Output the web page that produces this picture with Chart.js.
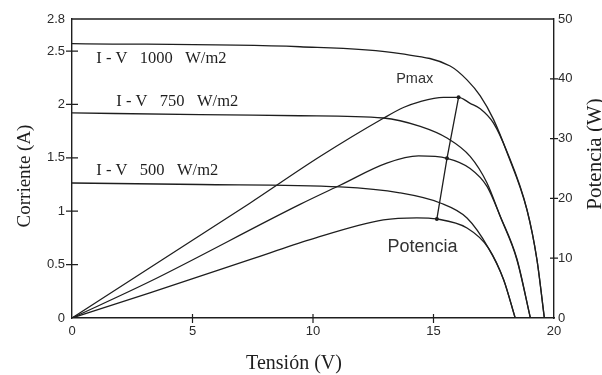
<!DOCTYPE html>
<html>
<head>
<meta charset="utf-8">
<script src="https://cdn.jsdelivr.net/npm/chart.js@4.4.1/dist/chart.umd.min.js"></script>
<style>html,body{margin:0;padding:0;background:#fff}canvas{display:block}</style>
</head>
<body>
<canvas id="c" width="602" height="375"></canvas>
<script>
// ── data (V in volts, I in amps, P in watts) ──
const v1000 = [0, 9.46, 13.63, 15.69, 16.39, 16.94, 17.49, 18.05, 18.88, 19.29, 19.6];
const i1000 = [2.57, 2.54, 2.475, 2.36, 2.23, 2.08, 1.86, 1.55, 1.01, 0.55, 0];
const v750 = [0, 5.31, 9.46, 12.92, 14.45, 15.56, 16.52, 17.22, 17.77, 18.46, 19.02];
const i750 = [1.92, 1.905, 1.894, 1.873, 1.794, 1.685, 1.513, 1.264, 0.95, 0.546, 0];
const v500 = [0, 5.31, 11.12, 13.6, 15.28, 16.39, 17.28, 17.91, 18.39];
const i500 = [1.264, 1.25, 1.227, 1.172, 1.077, 0.936, 0.655, 0.359, 0];

const pv1000 = [0, 3.23, 7.38, 10.29, 12.92, 13.75, 14.45, 15.41, 16.04, 16.52, 16.94, 17.49, 18.05, 18.88, 19.29, 19.6];
const p1000 = [0, 8.4, 19.2, 27.0, 33.4, 35.2, 36.2, 36.9, 36.9, 35.9, 35.0, 32.6, 27.8, 18.1, 9.8, 0];
const pv750 = [0, 3.23, 9.46, 11.12, 13.06, 14.38, 15.56, 16.52, 17.22, 17.77, 18.46, 19.02];
const p750 = [0, 6.1, 19.0, 22.2, 25.9, 27.1, 26.7, 25.0, 22.0, 17.0, 9.9, 0];
const pv500 = [0, 3.23, 7.38, 9.88, 12.92, 14.31, 15.14, 16.39, 17.28, 17.91, 18.39];
const p500 = [0, 4.2, 9.75, 13.1, 16.4, 16.75, 16.56, 15.05, 11.7, 6.4, 0];

const pmaxV = [16.04, 15.56, 15.14];
const pmaxP = [36.9, 26.7, 16.56];

const xTicks = [0, 5, 10, 15, 20];
const yTicks = [0, 0.5, 1, 1.5, 2, 2.5, 2.8];
const y1Ticks = [0, 10, 20, 30, 40, 50];

const ivLabels = ['I - V   1000   W/m2', 'I - V   750   W/m2', 'I - V   500   W/m2'];

const INK = '#1e1e1e';
const serif = '"Liberation Serif", "Times New Roman", serif';
const sans = '"Liberation Sans", Arial, sans-serif';

const pts = (xs, ys) => xs.map((x, k) => ({ x, y: ys[k] }));
const curve = (xs, ys, axis) => ({
  data: pts(xs, ys), yAxisID: axis,
  borderColor: INK, borderWidth: 1.3, pointRadius: 0,
  cubicInterpolationMode: 'monotone', fill: false
});

const deco = {
  id: 'deco',
  afterDraw(ch) {
    const c = ch.ctx, a = ch.chartArea, X = ch.scales.x, Y = ch.scales.y, Y1 = ch.scales.y1;
    c.save();
    c.strokeStyle = INK;
    c.lineWidth = 1.4;
    c.beginPath(); c.moveTo(a.left, a.top); c.lineTo(a.right, a.top); c.stroke();

    // tick marks crossing the axes
    c.lineWidth = 1.2;
    c.beginPath();
    yTicks.slice(1, -1).forEach(v => { const p = Y.getPixelForValue(v); c.moveTo(a.left - 6, p); c.lineTo(a.left + 6, p); });
    xTicks.slice(1, -1).forEach(v => { const p = X.getPixelForValue(v); c.moveTo(p, a.bottom - 4); c.lineTo(p, a.bottom + 5); });
    y1Ticks.slice(1, -1).forEach(v => { const p = Y1.getPixelForValue(v); c.moveTo(a.right - 4, p); c.lineTo(a.right + 4, p); });
    c.stroke();

    // curve labels
    c.fillStyle = INK;
    c.textBaseline = 'alphabetic';
    c.textAlign = 'left';
    c.font = '16.5px ' + serif;
    c.fillText(ivLabels[0], X.getPixelForValue(1.01), Y.getPixelForValue(2.388));
    c.fillText(ivLabels[1], X.getPixelForValue(1.84), Y.getPixelForValue(1.988));
    c.fillText(ivLabels[2], X.getPixelForValue(1.01), Y.getPixelForValue(1.342));
    c.fillStyle = '#333';
    c.font = '14.5px ' + sans;
    c.fillText('Pmax', X.getPixelForValue(13.45), Y1.getPixelForValue(39.3));
    c.font = '18px ' + sans;
    c.fillText('Potencia', X.getPixelForValue(13.09), Y1.getPixelForValue(11.0));

    // axis titles
    c.fillStyle = INK;
    c.textAlign = 'center';
    c.textBaseline = 'middle';
    c.font = '20px ' + serif;
    c.fillText('Tensión (V)', 294, 364);
    c.font = '19px ' + serif;
    c.save(); c.translate(25, 176); c.rotate(-Math.PI / 2); c.fillText('Corriente (A)', 0, 0); c.restore();
    c.font = '21px ' + serif;
    c.save(); c.translate(595, 154); c.rotate(-Math.PI / 2); c.fillText('Potencia (W)', 0, 0); c.restore();
    c.restore();
  }
};

const tickFont = { family: sans, size: 13 };
const axisBorder = { display: true, color: INK, width: 1.4 };
const noGrid = { drawOnChartArea: false, drawTicks: false };

new Chart(document.getElementById('c'), {
  type: 'line',
  data: {
    datasets: [
      curve(v1000, i1000, 'y'),
      curve(v750, i750, 'y'),
      curve(v500, i500, 'y'),
      curve(pv1000, p1000, 'y1'),
      curve(pv750, p750, 'y1'),
      curve(pv500, p500, 'y1'),
      {
        data: pts(pmaxV, pmaxP), yAxisID: 'y1',
        borderColor: INK, borderWidth: 1.3, tension: 0,
        pointRadius: 2, pointBackgroundColor: INK, pointBorderWidth: 0
      }
    ]
  },
  options: {
    responsive: false,
    animation: false,
    devicePixelRatio: 1,
    layout: { padding: { top: 19, left: 0, right: 0, bottom: 0 } },
    plugins: { legend: { display: false }, tooltip: { enabled: false } },
    scales: {
      x: {
        type: 'linear', min: 0, max: 20,
        afterBuildTicks: s => { s.ticks = xTicks.map(value => ({ value })); },
        afterFit: s => { s.height = 57; },
        ticks: { font: tickFont, color: '#2a2a2a', padding: 6, maxRotation: 0 },
        grid: noGrid, border: axisBorder
      },
      y: {
        position: 'left', min: 0, max: 2.8,
        afterBuildTicks: s => { s.ticks = yTicks.map(value => ({ value })); },
        afterFit: s => { s.width = 72; },
        ticks: { font: tickFont, color: '#2a2a2a', padding: 7, callback: v => String(v) },
        grid: noGrid, border: axisBorder
      },
      y1: {
        position: 'right', min: 0, max: 50,
        afterBuildTicks: s => { s.ticks = y1Ticks.map(value => ({ value })); },
        afterFit: s => { s.width = 48; },
        ticks: { font: tickFont, color: '#2a2a2a', padding: 4, callback: v => String(v) },
        grid: noGrid, border: axisBorder
      }
    }
  },
  plugins: [deco]
});
</script>
</body>
</html>
